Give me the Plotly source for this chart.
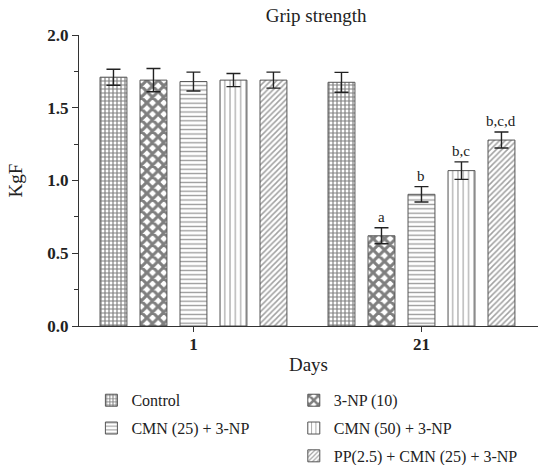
import plotly.graph_objects as go

days = ["1", "21"]
groups = ["Control", "3-NP (10)", "CMN (25) + 3-NP", "CMN (50) + 3-NP", "PP(2.5) + CMN (25) + 3-NP"]
day1_vals = [1.71, 1.69, 1.68, 1.69, 1.69]
day1_err = [0.055, 0.08, 0.065, 0.045, 0.055]
day21_vals = [1.675, 0.62, 0.905, 1.068, 1.278]
day21_err = [0.068, 0.055, 0.053, 0.06, 0.055]
day21_labels = ["", "a", "b", "b,c", "b,c,d"]
legend_column = ["legend", "legend2", "legend", "legend2", "legend2"]

patterns = [
    dict(shape="+", size=4, solidity=0.5, fgcolor="#000", bgcolor="white"),
    dict(shape="x", size=8, solidity=0.62, fgcolor="#000", bgcolor="white"),
    dict(shape="-", size=4.4, solidity=0.3, fgcolor="#333", bgcolor="white"),
    dict(shape="|", size=5.3, solidity=0.2, fgcolor="#333", bgcolor="white"),
    dict(shape="/", size=4, solidity=0.38, fgcolor="#444", bgcolor="white"),
]

SERIF = "Liberation Serif"
n = len(groups)
pitch = 0.1754
fig = go.Figure()
for i, g in enumerate(groups):
    fig.add_trace(go.Bar(
        name=g,
        x=[0, 1],
        y=[day1_vals[i], day21_vals[i]],
        legend=legend_column[i],
        legendgroup=g,
        error_y=dict(type="data", array=[day1_err[i], day21_err[i]], color="#222", thickness=1.4, width=7),
        marker=dict(color="white", pattern=patterns[i], line=dict(color="#555", width=1)),
    ))

annos = []
for i, lab in enumerate(day21_labels):
    if lab:
        annos.append(dict(x=1 + (i - (n - 1) / 2) * pitch, y=day21_vals[i] + day21_err[i],
                          text=lab, showarrow=False, yanchor="bottom", yshift=1,
                          font=dict(family=SERIF, size=15, color="#222")))

leg_common = dict(orientation="v", yanchor="top", tracegroupgap=4, bgcolor="rgba(0,0,0,0)",
                  font=dict(family=SERIF, size=16, color="#222"))

fig.update_layout(
    width=538, height=465,
    margin=dict(l=79, r=0, t=35, b=139, autoexpand=False),
    paper_bgcolor="white", plot_bgcolor="white",
    barmode="group", bargap=0.123, bargroupgap=0.327,
    title=dict(text="Grip strength", x=0.5875, xanchor="center", y=0.968, yanchor="middle",
               font=dict(family=SERIF, size=19, color="#222")),
    font=dict(family=SERIF, color="#222"),
    annotations=annos,
    legend=dict(x=0.027, xanchor="left", y=-0.197, **leg_common),
    legend2=dict(x=0.468, xanchor="left", y=-0.197, **leg_common),
)
fig.update_xaxes(range=[-0.502, 1.511], tickvals=[0, 1], ticktext=["<b>" + d + "</b>" for d in days],
                 showline=True, linecolor="#333", linewidth=1, ticks="outside", ticklen=5,
                 tickcolor="#333", showgrid=False, zeroline=False, ticklabelstandoff=-2,
                 tickfont=dict(family=SERIF, size=17, color="#222"),
                 title=dict(text="Days", font=dict(family=SERIF, size=19, color="#222"), standoff=4))
fig.update_yaxes(range=[0, 2.0], tickvals=[0, 0.5, 1.0, 1.5, 2.0],
                 ticktext=["<b>0.0</b>", "<b>0.5</b>", "<b>1.0</b>", "<b>1.5</b>", "<b>2.0</b>"],
                 showline=True, linecolor="#333", linewidth=1, ticks="outside", ticklen=6,
                 tickcolor="#333", showgrid=False, zeroline=False,
                 minor=dict(tickvals=[0.25, 0.75, 1.25, 1.75], ticks="outside", ticklen=4, tickcolor="#333"),
                 tickfont=dict(family=SERIF, size=17, color="#222"),
                 title=dict(text="KgF", font=dict(family=SERIF, size=19, color="#222"), standoff=19))

fig.write_html("out.html")
